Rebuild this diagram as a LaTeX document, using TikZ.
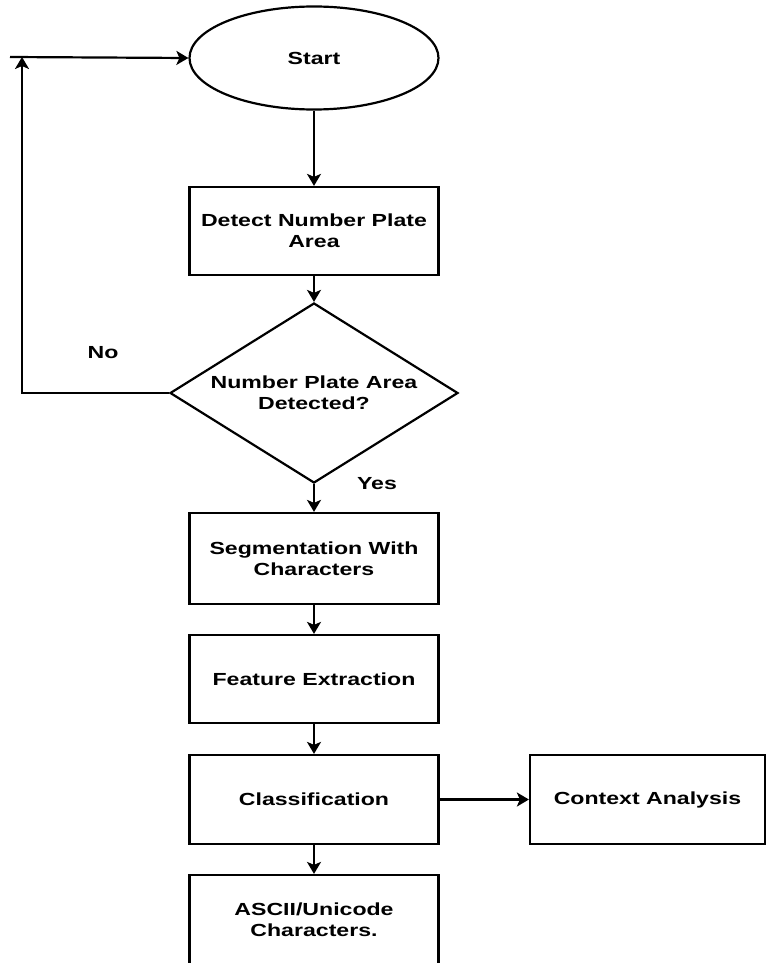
\documentclass[tikz,border=0pt]{standalone}
\usepackage{fontspec}
\setmainfont{Liberation Sans}[FakeStretch=1.32]
\usetikzlibrary{shapes.geometric,arrows.meta}
\begin{document}
\begin{tikzpicture}[x=1pt,y=-1pt,
  every node/.style={font=\fontsize{17.5}{21}\selectfont\bfseries, align=center},
  line/.style={line width=2.2pt, draw=black},
  arr/.style={line, -{Stealth[length=12pt,width=14pt,inset=3pt]}},
  procbox/.style={line, rectangle, minimum width=249pt, minimum height=89pt, inner sep=0pt},
  lbl/.style={inner sep=0pt}
]
\useasboundingbox (0,0) rectangle (767,963);
\node[line, ellipse, minimum width=249pt, minimum height=103pt, inner sep=0pt] (start) at (314,58) {Start};
\node[procbox, minimum height=88pt] (detect) at (314,231) {Detect Number Plate\\Area};
\node[line, diamond, aspect=1.6, minimum width=288pt, minimum height=180pt, inner sep=0pt] (dec) at (314,393) {Number Plate Area\\Detected?};
\node[procbox, minimum height=91pt] (seg) at (314,558.5) {Segmentation With\\Characters};
\node[procbox, minimum height=88pt] (feat) at (314,679) {Feature Extraction};
\node[procbox] (cls) at (314,799.5) {Classification};
\node[procbox] (ascii) at (314,919.5) {ASCII/Unicode\\Characters.};
\node[line, rectangle, minimum width=235pt, minimum height=89pt, inner sep=0pt] (ctx) at (647.5,799.5) {Context Analysis};
\coordinate (looptop) at (22,57);
\coordinate (stub) at (10,57);
\node[lbl] (no) at (103,353) {No};
\node[lbl] (yes) at (377,484) {Yes};
\draw[arr] (start) -- (detect);
\draw[arr] (detect) -- (dec);
\draw[arr] (dec) -- (seg);
\draw[arr] (seg) -- (feat);
\draw[arr] (feat) -- (cls);
\draw[arr] (cls) -- (ascii);
\draw[arr] (cls) -- (ctx);
\draw[arr] (dec.west) -| (looptop);
\draw[arr] (stub) -- (start.west);
\end{tikzpicture}
\end{document}
